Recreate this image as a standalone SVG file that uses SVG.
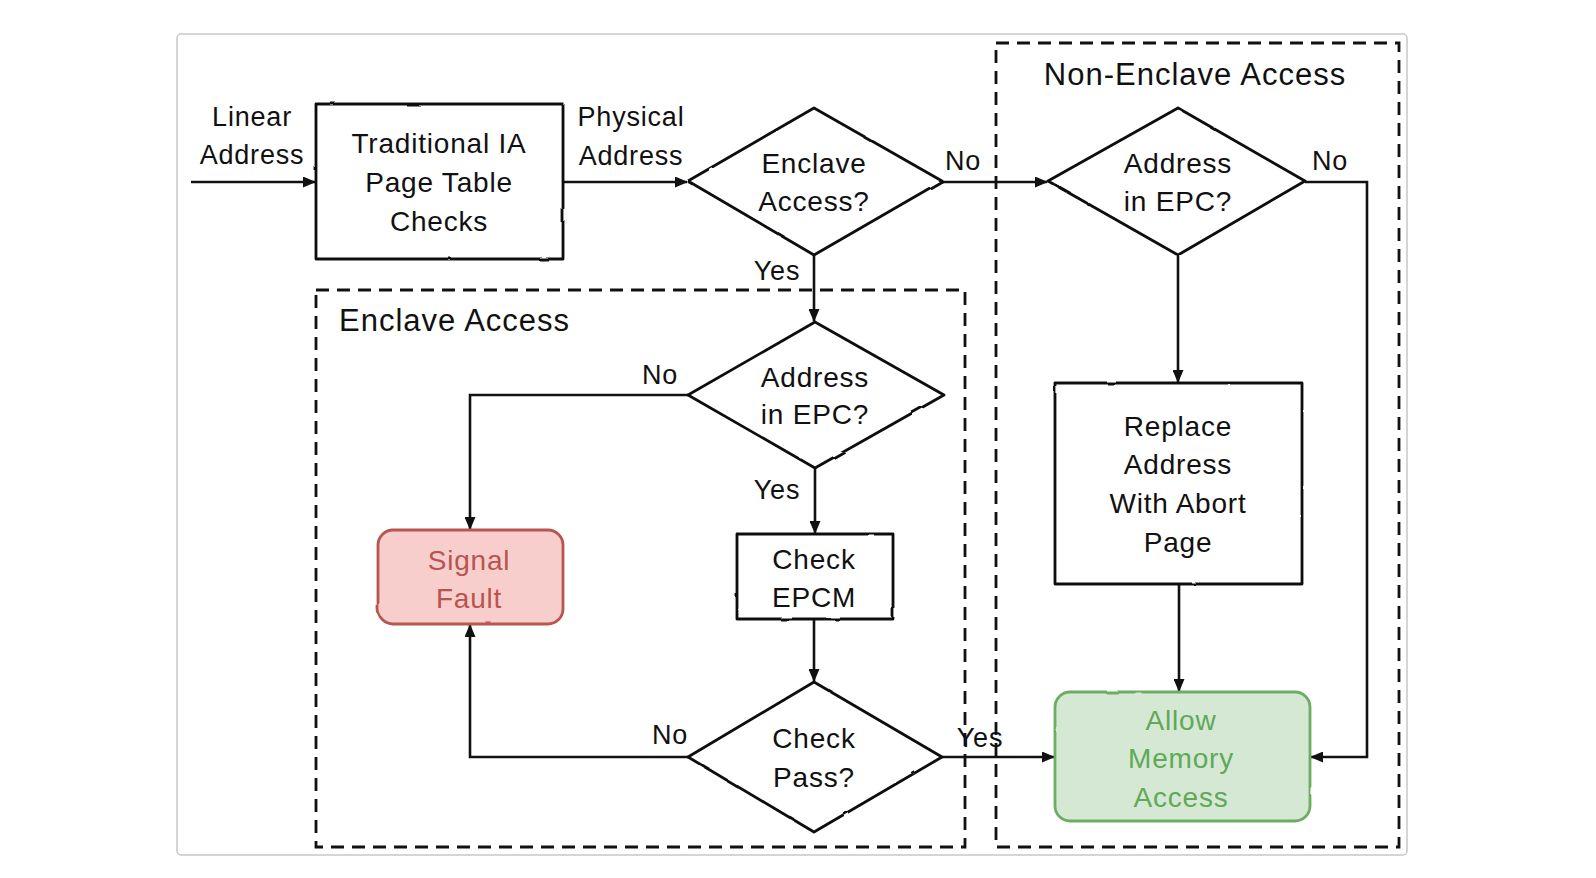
<svg xmlns="http://www.w3.org/2000/svg" width="1596" height="878" viewBox="0 0 1596 878">
<style>
text{font-family:"Liberation Sans","DejaVu Sans",sans-serif;font-size:28px;letter-spacing:0.8px;fill:#111;text-anchor:middle;dominant-baseline:central}
.lbl{font-size:27px}
.title{font-size:31px;letter-spacing:1px}
.shape{fill:#fff;stroke:#111;stroke-width:2.8;stroke-linejoin:round;filter:url(#rough)}
.group{fill:none;stroke:#111;stroke-width:2.8;stroke-dasharray:13 8}
.edge{fill:none;stroke:#111;stroke-width:2.6;marker-end:url(#arr)}
.red{fill:#f8cecc;stroke:#b85450;stroke-width:2.8;filter:url(#rough)}
.green{fill:#d5e8d4;stroke:#6cad62;stroke-width:2.8;filter:url(#rough)}
.redt{fill:#b85450}
.greent{fill:#5fa957}
</style>
<defs>
<filter id="rough" x="-15%" y="-15%" width="130%" height="130%">
<feTurbulence type="fractalNoise" baseFrequency="0.04" numOctaves="2" seed="3"/>
<feDisplacementMap in="SourceGraphic" scale="2"/>
</filter>
<marker id="arr" viewBox="0 0 13 11" refX="12" refY="5.5" markerWidth="13" markerHeight="11" markerUnits="userSpaceOnUse" orient="auto">
<path d="M0,0 L13,5.5 L0,11 Z" fill="#111"/>
</marker>
</defs>
<rect x="177" y="34" width="1230" height="821" rx="4" fill="#fff" stroke="#c8c8c8" stroke-width="1.5"/>

<g id="group-enclave">
<rect class="group" x="316" y="290" width="649" height="557"/>
<text class="title" x="339" y="320" style="text-anchor:start">Enclave Access</text>
</g>
<g id="group-nonenclave">
<rect class="group" x="996" y="43" width="403" height="804"/>
<text class="title" x="1195" y="74">Non-Enclave Access</text>
</g>

<g id="connectors">
<path class="edge" d="M191,182 H315"/>
<path class="edge" d="M563,182 H687"/>
<path class="edge" d="M942,182 H1047"/>
<path class="edge" d="M1305,182 H1367 V757 H1311"/>
<path class="edge" d="M1178,255 V382"/>
<path class="edge" d="M1179,584 V691"/>
<path class="edge" d="M814,255 V321"/>
<path class="edge" d="M688,395 H470 V529"/>
<path class="edge" d="M815,468 V533"/>
<path class="edge" d="M814,619 V681"/>
<path class="edge" d="M688,757 H470 V625"/>
<path class="edge" d="M942,757 H1054"/>
<text class="lbl" x="252" y="117">Linear</text>
<text class="lbl" x="252" y="155">Address</text>
<text class="lbl" x="631" y="117">Physical</text>
<text class="lbl" x="631" y="156">Address</text>
<text class="lbl" x="963" y="161">No</text>
<text class="lbl" x="1330" y="161">No</text>
<text class="lbl" x="777" y="271">Yes</text>
<text class="lbl" x="660" y="375">No</text>
<text class="lbl" x="777" y="490">Yes</text>
<text class="lbl" x="670" y="735">No</text>
<text class="lbl" x="980" y="738">Yes</text>
</g>

<g id="node-pagetable">
<rect class="shape" x="316" y="104" width="247" height="155"/>
<text x="439" y="143">Traditional IA</text>
<text x="439" y="182">Page Table</text>
<text x="439" y="221">Checks</text>
</g>
<g id="node-enclave-access">
<polygon class="shape" points="814,108 942,181 814,255 688,181"/>
<text x="814" y="163">Enclave</text>
<text x="814" y="201">Access?</text>
</g>
<g id="node-nonenclave-epc">
<polygon class="shape" points="1178,108 1305,181 1178,255 1048,181"/>
<text x="1178" y="163">Address</text>
<text x="1178" y="201">in EPC?</text>
</g>
<g id="node-replace">
<rect class="shape" x="1055" y="383" width="247" height="201"/>
<text x="1178" y="426">Replace</text>
<text x="1178" y="464">Address</text>
<text x="1178" y="503">With Abort</text>
<text x="1178" y="542">Page</text>
</g>
<g id="node-allow">
<rect class="green" x="1055" y="692" width="255" height="129" rx="15"/>
<text class="greent" x="1181" y="720">Allow</text>
<text class="greent" x="1181" y="758">Memory</text>
<text class="greent" x="1181" y="797">Access</text>
</g>
<g id="node-enclave-epc">
<polygon class="shape" points="815,322 944,395 815,468 688,395"/>
<text x="815" y="377">Address</text>
<text x="815" y="414">in EPC?</text>
</g>
<g id="node-signal-fault">
<rect class="red" x="378" y="530" width="185" height="94" rx="15"/>
<text class="redt" x="469" y="560">Signal</text>
<text class="redt" x="469" y="598">Fault</text>
</g>
<g id="node-check-epcm">
<rect class="shape" x="737" y="534" width="156" height="85"/>
<text x="814" y="559">Check</text>
<text x="814" y="597">EPCM</text>
</g>
<g id="node-check-pass">
<polygon class="shape" points="814,682 942,757 814,832 688,757"/>
<text x="814" y="738">Check</text>
<text x="814" y="777">Pass?</text>
</g>
</svg>
